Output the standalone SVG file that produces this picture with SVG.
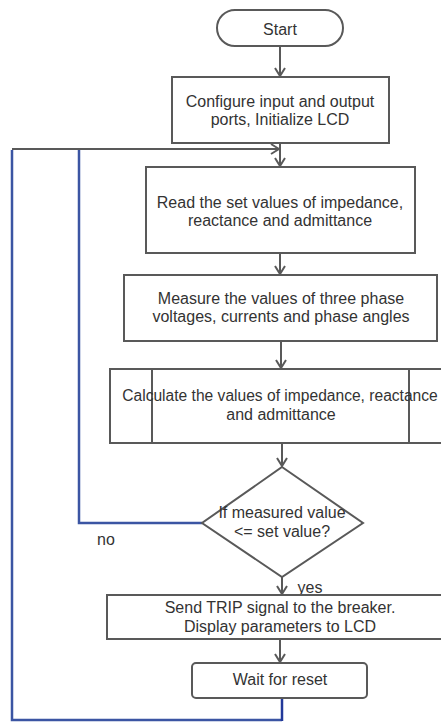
<svg xmlns="http://www.w3.org/2000/svg" width="441" height="722" viewBox="0 0 441 722">
<style>
.box{fill:#fff;stroke:#595959;stroke-width:2}
.t{font-family:"Liberation Sans",Arial,sans-serif;font-size:16px;fill:#333;text-anchor:middle}
.c{fill:none;stroke:#595959;stroke-width:2}
.b{fill:none;stroke:#3b55a3;stroke-width:2.5}
.bd{fill:none;stroke:#22399a;stroke-width:2.5}
</style>
<defs>
<marker id="ah" viewBox="0 0 10 12" refX="9" refY="6" markerWidth="10" markerHeight="12" markerUnits="userSpaceOnUse" orient="auto">
<path d="M1,1 L9,6 L1,11" fill="none" stroke="#595959" stroke-width="2"/>
</marker>
</defs>
<rect width="441" height="722" fill="#fff"/>
<g id="connectors">
<line class="c" x1="280" y1="46" x2="280" y2="76" marker-end="url(#ah)"/>
<line class="c" x1="280" y1="143" x2="280" y2="166" marker-end="url(#ah)"/>
<line class="c" x1="280" y1="253" x2="280" y2="274" marker-end="url(#ah)"/>
<line class="c" x1="281" y1="341" x2="281" y2="368" marker-end="url(#ah)"/>
<line class="c" x1="282" y1="443" x2="282" y2="466" marker-end="url(#ah)"/>
<line class="c" x1="282" y1="577" x2="282" y2="594" marker-end="url(#ah)"/>
<line class="c" x1="280" y1="639" x2="280" y2="662" marker-end="url(#ah)"/>
<polyline class="b" points="202,523 79,523 79,150"/>
<polyline class="b" points="12,150 12,720 282,720"/>
<line class="bd" x1="282" y1="698" x2="282" y2="721"/>
<line class="c" x1="12" y1="149" x2="279" y2="149" marker-end="url(#ah)"/>
<text class="t" x="106" y="545">no</text>
<text class="t" x="310" y="593">yes</text>
</g>
<g id="start">
<rect class="box" x="217" y="10" width="126" height="36" rx="18"/>
<text class="t" x="280" y="35">Start</text>
</g>
<g id="configure">
<rect class="box" x="172" y="77" width="217" height="66"/>
<text class="t" x="280" y="107">Configure input and output</text>
<text class="t" x="280" y="125">ports, Initialize LCD</text>
</g>
<g id="read">
<rect class="box" x="146" y="167" width="269" height="86"/>
<text class="t" x="280" y="208">Read the set values of impedance,</text>
<text class="t" x="280" y="226">reactance and admittance</text>
</g>
<g id="measure">
<rect class="box" x="124" y="275" width="313" height="66"/>
<text class="t" x="281" y="304">Measure the values of three phase</text>
<text class="t" x="281" y="322">voltages, currents and phase angles</text>
</g>
<g id="calculate">
<rect class="box" x="110" y="369" width="342" height="74"/>
<line class="c" x1="152" y1="369" x2="152" y2="443"/>
<line class="c" x1="409" y1="369" x2="409" y2="443"/>
<text class="t" x="280" y="401" style="font-size:15.6px">Calculate the values of impedance, reactance</text>
<text class="t" x="281" y="420">and admittance</text>
</g>
<g id="decision">
<polygon class="box" points="282,467 363,523 282,577 202,523"/>
<text class="t" x="282" y="518">If measured value</text>
<text class="t" x="282" y="537">&lt;= set value?</text>
</g>
<g id="trip">
<rect class="box" x="107" y="595" width="344" height="44"/>
<text class="t" x="280" y="613">Send TRIP signal to the breaker.</text>
<text class="t" x="280" y="632">Display parameters to LCD</text>
</g>
<g id="wait">
<rect class="box" x="192" y="663" width="175" height="35" rx="4"/>
<text class="t" x="280" y="685">Wait for reset</text>
</g>
</svg>
